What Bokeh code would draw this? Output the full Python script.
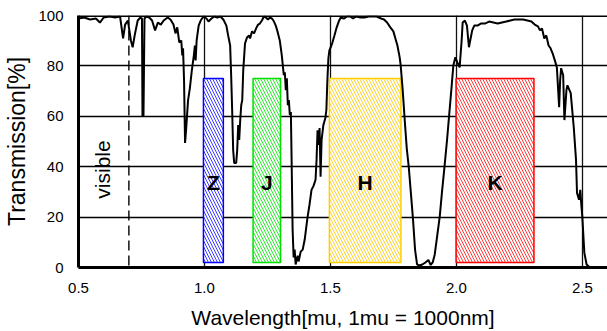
import math
from bokeh.plotting import figure
from bokeh.models import Range1d, FixedTicker, PrintfTickFormatter, Span, ColumnDataSource
from bokeh.core.properties import value
from bokeh.embed import file_html
from bokeh.resources import INLINE

# ---- data ----
wavelength = [
    0.500, 0.523, 0.546, 0.569, 0.585, 0.600, 0.623, 0.646, 0.665, 0.677,
    0.685, 0.696, 0.708, 0.715, 0.723, 0.735, 0.746, 0.752, 0.754, 0.758,
    0.762, 0.769, 0.781, 0.792, 0.804, 0.815, 0.827, 0.838, 0.854, 0.865,
    0.877, 0.885, 0.892, 0.900, 0.908, 0.912, 0.915, 0.919, 0.923, 0.927,
    0.935, 0.942, 0.950, 0.958, 0.962, 0.965, 0.969, 0.977, 0.985, 0.996,
    1.008, 1.016, 1.028, 1.039, 1.051, 1.063, 1.075, 1.087, 1.094, 1.102,
    1.106, 1.110, 1.114, 1.118, 1.126, 1.130, 1.134, 1.138, 1.142, 1.146,
    1.150, 1.154, 1.161, 1.169, 1.177, 1.181, 1.189, 1.197, 1.205, 1.213,
    1.220, 1.228, 1.236, 1.244, 1.252, 1.260, 1.268, 1.276, 1.283, 1.291,
    1.299, 1.307, 1.315, 1.319, 1.323, 1.327, 1.331, 1.335, 1.339, 1.343,
    1.346, 1.350, 1.354, 1.358, 1.362, 1.370, 1.374, 1.382, 1.390, 1.398,
    1.409, 1.417, 1.425, 1.433, 1.441, 1.445, 1.449, 1.453, 1.457, 1.461,
    1.465, 1.472, 1.480, 1.484, 1.488, 1.492, 1.496,
    1.504, 1.508, 1.516, 1.525, 1.533, 1.541, 1.553, 1.566, 1.578, 1.590,
    1.602, 1.619, 1.635, 1.652, 1.668, 1.684, 1.701, 1.713, 1.725, 1.738,
    1.750, 1.758, 1.766, 1.775, 1.779, 1.787, 1.795, 1.803, 1.811, 1.820,
    1.828, 1.836, 1.844, 1.852, 1.865, 1.877, 1.889, 1.898, 1.906, 1.914,
    1.922, 1.934, 1.943, 1.953, 1.963, 1.971, 1.980, 1.988, 1.996,
    2.004, 2.013, 2.021, 2.025, 2.034, 2.042, 2.050, 2.055, 2.063, 2.071,
    2.084, 2.097, 2.113, 2.130, 2.147, 2.164, 2.181, 2.198, 2.214, 2.231,
    2.248, 2.265, 2.282, 2.298, 2.311, 2.324, 2.332, 2.340, 2.349, 2.357,
    2.366, 2.374, 2.382, 2.391, 2.399, 2.408, 2.412, 2.416, 2.424, 2.429,
    2.437, 2.441, 2.454, 2.466, 2.475, 2.479, 2.487, 2.492, 2.496,
    2.500, 2.508, 2.517, 2.530, 2.600,
]
transmission = [
    98.8, 99.2, 98.4, 98.8, 97.2, 99.2, 99.6, 99.2, 99.6, 90.9,
    96.4, 98.0, 90.1, 87.4, 92.1, 98.0, 99.2, 98.8, 60.1, 60.1,
    98.8, 99.6, 99.2, 98.0, 94.1, 97.2, 96.4, 98.0, 99.2, 98.4,
    96.4, 92.9, 95.3, 89.3, 90.1, 84.2, 87.0, 74.3, 49.4, 54.5,
    66.4, 71.1, 78.3, 84.2, 88.1, 82.2, 90.1, 96.0, 98.0, 99.6,
    98.8, 97.6, 98.8, 99.6, 99.2, 99.6, 98.4, 96.0, 92.1, 88.1,
    76.3, 62.5, 46.6, 41.5, 41.5, 46.6, 56.5, 50.6, 58.5, 64.4,
    66.4, 78.3, 88.9, 91.3, 92.1, 90.9, 93.7, 92.9, 94.9, 96.4,
    96.8, 98.0, 99.6, 99.2, 98.4, 99.2, 98.8, 97.6, 96.0, 93.3,
    90.1, 84.2, 76.3, 77.5, 70.4, 75.1, 64.4, 66.4, 60.5, 61.7,
    42.7, 15.0, 4.0, 7.1, 1.2, 4.7, 2.4, 6.3, 7.1, 11.1,
    19.8, 24.9, 30.8, 32.4, 34.8, 42.7, 54.5, 48.6, 55.3, 36.0,
    50.6, 56.5, 59.3, 62.5, 74.3, 83.0, 86.2,
    88.1, 89.3, 92.1, 95.3, 97.6, 99.2, 98.8, 99.6, 99.6, 98.8,
    99.6, 99.2, 99.2, 99.6, 99.6, 99.6, 98.8, 98.4, 97.2, 95.3,
    93.7, 90.9, 88.1, 83.4, 80.2, 70.4, 58.5, 47.4, 39.9, 28.9,
    19.0, 7.1, 1.2, 0.8, 1.2, 2.0, 3.0, 1.0, 2.0, 5.1,
    11.1, 20.2, 30.0, 40.0, 50.6, 60.0, 70.4, 80.2, 83.4,
    81.4, 79.4, 90.1, 97.2, 98.0, 96.0, 87.4, 90.1, 94.1, 96.0,
    96.0, 96.8, 96.8, 97.6, 97.2, 96.8, 97.2, 97.6, 98.0, 98.4,
    98.4, 98.4, 98.0, 97.6, 96.4, 95.7, 94.1, 94.9, 90.9, 92.1,
    88.1, 87.0, 85.0, 82.2, 79.4, 63.6, 74.3, 79.1, 76.3, 58.5,
    70.4, 72.3, 69.2, 55.7, 42.7, 29.6, 26.9, 30.8, 24.9,
    20.2, 5.9, 1.2, 0.0, 0.0,
]

band_names = ["Z", "J", "H", "K"]
band_lo = [0.996, 1.193, 1.496, 1.999]
band_hi = [1.075, 1.302, 1.780, 2.308]
band_bottom = [2, 2, 2, 2]
band_top = [75, 75, 75, 75]
band_line_colors = ["#0000ff", "#00e000", "#ffd000", "#ff0000"]
band_hatch_colors = ["#3a3aff", "#30e830", "#ffd22e", "#ff3a3a"]
band_label_y = [33.8, 33.8, 33.8, 33.8]

visible_edge = 0.70
visible_label_x = [0.596]
visible_label_y = [38.9]
visible_text = ["visible"]

x_ticks = [0.5, 1.0, 1.5, 2.0, 2.5]
x_grid_ticks = [1.0, 1.5, 2.0, 2.5]
y_ticks = [0, 20, 40, 60, 80, 100]
y_grid_ticks = [20, 40, 60, 80, 100]

FONT = "Liberation Sans"

p = figure(width=607, height=331,
           x_range=Range1d(0.5, 2.6), y_range=Range1d(0, 100),
           output_backend="svg", toolbar_location=None,
           min_border_left=78, min_border_right=0,
           min_border_top=15, min_border_bottom=64)
p.outline_line_color = None
p.background_fill_color = "white"
p.border_fill_color = "white"

# axes
p.xaxis.ticker = FixedTicker(ticks=x_ticks)
p.xaxis.formatter = PrintfTickFormatter(format="%.1f")
p.yaxis.ticker = FixedTicker(ticks=y_ticks)
for ax in (p.xaxis, p.yaxis):
    ax.axis_line_width = 3
    ax.axis_line_color = "black"
    ax.major_tick_line_color = None
    ax.minor_tick_line_color = None
    ax.major_label_text_font = FONT
    ax.major_label_text_font_size = "15px"
    ax.major_label_text_color = "black"
    ax.major_label_standoff = 9
    ax.axis_label_text_font = FONT
    ax.axis_label_text_font_style = "normal"
    ax.axis_label_text_color = "black"

p.xaxis.axis_label = "Wavelength[mu, 1mu = 1000nm]"
p.xaxis.axis_label_text_font_size = "21px"
p.xaxis.axis_label_standoff = 10
p.yaxis.axis_label = "Transmission[%]"
p.yaxis.axis_label_text_font_size = "23px"
p.yaxis.axis_label_standoff = 5

# grids
p.xgrid.ticker = FixedTicker(ticks=x_grid_ticks)
p.ygrid.ticker = FixedTicker(ticks=y_grid_ticks)
p.xgrid.grid_line_color = "#111111"
p.xgrid.grid_line_width = 1.3
p.ygrid.grid_line_color = "black"
p.ygrid.grid_line_width = 1.6

p.add_layout(Span(location=100, dimension="width", line_color="black", line_width=3))
p.add_layout(Span(location=visible_edge, dimension="height", line_color="black",
                  line_width=1.4, line_dash="10 5"))

# filter bands
band_src = ColumnDataSource(dict(
    left=band_lo, right=band_hi, bottom=band_bottom, top=band_top,
    line=band_line_colors, hatch=band_hatch_colors, name=band_names,
    cx=[(a + b) / 2 for a, b in zip(band_lo, band_hi)], ly=band_label_y,
))
p.quad(left="left", right="right", bottom="bottom", top="top", source=band_src,
       fill_color="white", line_color="line", line_width=1.5,
       hatch_pattern="\\", hatch_color="hatch", hatch_scale=6, hatch_weight=1)

# transmission curve
p.line(wavelength, transmission, line_color="black", line_width=2)

# labels
p.text(x="cx", y="ly", text="name", source=band_src,
       text_align="center", text_baseline="middle",
       text_font=value(FONT), text_font_style="bold", text_font_size="21px",
       text_color="black")
p.text(x=visible_label_x, y=visible_label_y, text=visible_text, angle=math.pi / 2,
       text_align="center", text_baseline="middle",
       text_font=value(FONT), text_font_size="21px", text_color="black")

open("out.html", "w").write(file_html(p, INLINE))
